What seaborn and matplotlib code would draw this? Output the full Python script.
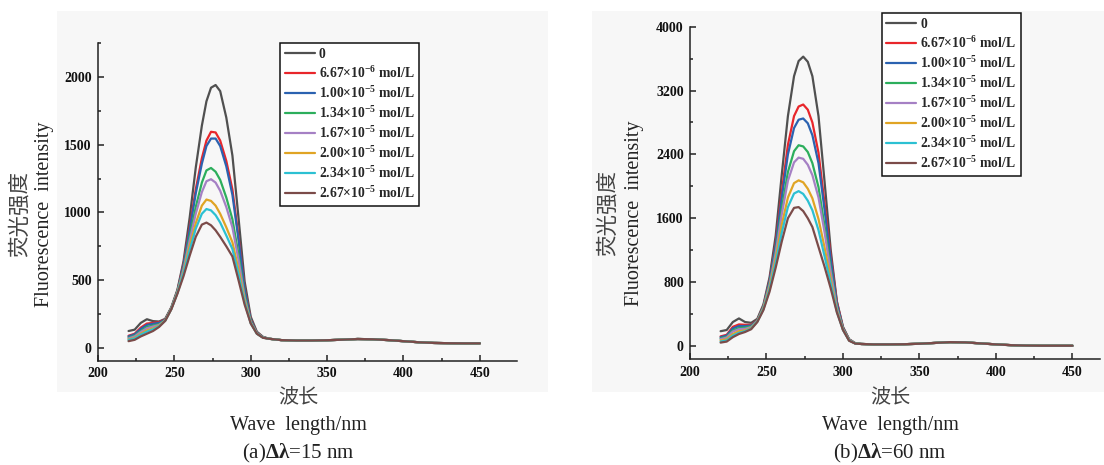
import numpy as np
import pandas as pd
import seaborn as sns
import matplotlib
matplotlib.use("Agg")
import matplotlib.pyplot as plt
from matplotlib.patches import Rectangle
from matplotlib.ticker import MultipleLocator

# ---- 数据 ----
wl_head = [220, 224, 228, 232, 236, 240, 244, 248, 252, 256, 260, 264,
           268, 271, 274, 277, 280, 284, 288, 292, 296, 300, 304, 308]
wl_tail = [312, 320, 330, 340, 350, 360, 370, 380, 390, 400, 410, 420, 430, 440, 450]

labels = ["0",
          r"6.67×10$^{\mathbf{-6}}$ mol/L",
          r"1.00×10$^{\mathbf{-5}}$ mol/L",
          r"1.34×10$^{\mathbf{-5}}$ mol/L",
          r"1.67×10$^{\mathbf{-5}}$ mol/L",
          r"2.00×10$^{\mathbf{-5}}$ mol/L",
          r"2.34×10$^{\mathbf{-5}}$ mol/L",
          r"2.67×10$^{\mathbf{-5}}$ mol/L"]
colors = ["#505050", "#e8262b", "#2b62b0", "#2cae5c", "#a580c4",
          "#e0a424", "#2cc0d2", "#7b4b49"]

# (a) Δλ=15 nm
a_c0 = [125, 135, 185, 212, 198, 195, 215, 300, 430, 640, 960, 1330,
        1640, 1820, 1920, 1940, 1895, 1700, 1420, 960, 490, 230, 120, 82]
a_c1 = [90, 105, 150, 180, 185, 190, 210, 295, 420, 620, 890, 1170,
        1400, 1530, 1595, 1590, 1530, 1380, 1170, 820, 440, 210, 115, 80]
a_c2 = [85, 100, 140, 170, 178, 185, 208, 293, 418, 610, 870, 1140,
        1360, 1490, 1545, 1545, 1490, 1340, 1130, 800, 430, 205, 113, 79]
a_c3 = [75, 90, 125, 155, 165, 175, 205, 292, 415, 590, 820, 1040,
        1220, 1310, 1328, 1300, 1240, 1110, 950, 690, 390, 195, 110, 78]
a_c4 = [70, 85, 118, 145, 158, 170, 203, 290, 412, 580, 790, 990,
        1150, 1230, 1245, 1220, 1160, 1040, 890, 650, 370, 190, 108, 77]
a_c5 = [62, 75, 105, 130, 145, 165, 202, 288, 408, 560, 750, 920,
        1050, 1095, 1085, 1050, 990, 890, 780, 580, 350, 185, 106, 76]
a_c6 = [58, 70, 98, 120, 138, 160, 201, 287, 405, 550, 720, 880,
        990, 1025, 1015, 980, 925, 830, 730, 545, 335, 182, 105, 76]
a_c7 = [50, 60, 85, 105, 125, 155, 200, 285, 400, 530, 680, 820,
        910, 925, 905, 868, 820, 750, 675, 500, 320, 180, 105, 75]
a_tail = [68, 58, 55, 55, 57, 61, 66, 64, 58, 50, 42, 37, 35, 34, 34]

# (b) Δλ=60 nm
b_c0 = [185, 200, 300, 345, 300, 290, 340, 520, 860, 1380, 2150, 2880,
        3380, 3570, 3625, 3560, 3380, 2880, 2050, 1200, 560, 240, 85, 35]
b_c1 = [120, 140, 240, 270, 265, 265, 325, 500, 820, 1290, 1930, 2520,
        2880, 3000, 3025, 2960, 2800, 2420, 1780, 1120, 550, 230, 80, 35]
b_c2 = [110, 130, 220, 250, 250, 255, 320, 495, 810, 1260, 1860, 2400,
        2730, 2835, 2850, 2790, 2640, 2290, 1700, 1080, 530, 225, 78, 34]
b_c3 = [95, 115, 195, 225, 230, 245, 315, 485, 780, 1190, 1720, 2180,
        2440, 2515, 2500, 2430, 2290, 1990, 1500, 970, 490, 215, 75, 33]
b_c4 = [85, 105, 180, 210, 215, 235, 312, 480, 765, 1160, 1650, 2070,
        2300, 2360, 2345, 2270, 2140, 1860, 1420, 920, 475, 210, 73, 33]
b_c5 = [70, 85, 150, 185, 195, 225, 308, 470, 735, 1090, 1520, 1860,
        2040, 2075, 2050, 1970, 1850, 1590, 1230, 830, 445, 205, 70, 32]
b_c6 = [55, 70, 130, 165, 185, 218, 304, 460, 710, 1040, 1420, 1740,
        1910, 1940, 1905, 1820, 1700, 1450, 1120, 780, 430, 200, 68, 31]
b_c7 = [42, 55, 110, 150, 175, 210, 300, 450, 680, 980, 1310, 1600,
        1730, 1740, 1690, 1600, 1490, 1240, 990, 720, 420, 200, 65, 30]
b_tail = [25, 20, 20, 22, 28, 38, 48, 45, 32, 20, 10, 5, 3, 3, 3]


def make_df(heads, tail):
    rows = []
    for lab, head in zip(labels, heads):
        for x, y in zip(wl_head + wl_tail, head + tail):
            rows.append((x, y, lab))
    return pd.DataFrame(rows, columns=["wl", "val", "conc"])


df_a = make_df([a_c0, a_c1, a_c2, a_c3, a_c4, a_c5, a_c6, a_c7], a_tail)
df_b = make_df([b_c0, b_c1, b_c2, b_c3, b_c4, b_c5, b_c6, b_c7], b_tail)

# ---- 样式 ----
sns.set_style("ticks")
plt.rcParams["font.family"] = ["Liberation Serif", "DejaVu Sans"]
plt.rcParams["mathtext.fontset"] = "custom"
plt.rcParams["mathtext.rm"] = "Liberation Serif"
plt.rcParams["mathtext.it"] = "Liberation Serif:italic"
plt.rcParams["mathtext.bf"] = "Liberation Serif:bold"
plt.rcParams["mathtext.bfit"] = "Liberation Serif:bold:italic"

bg = "#f7f7f7"
fig = plt.figure(figsize=(11.04, 4.65), dpi=100)
fig.patch.set_facecolor("white")
W, H = 1104, 465
for x0, x1 in [(57, 548), (592, 1104)]:
    fig.patches.append(Rectangle((x0 / W, 1 - 392 / H), (x1 - x0) / W, (392 - 11) / H,
                                 transform=fig.transFigure, facecolor=bg,
                                 edgecolor="none", zorder=-5))

ax_a = fig.add_axes([98 / W, 1 - 360.7 / H, 418.5 / W, (360.7 - 43) / H])
ax_b = fig.add_axes([690 / W, 1 - 359.3 / H, 410 / W, (359.3 - 26.7) / H])

panels = [
    (ax_a, df_a, (200, 474), (-94, 2250), 500, 250, (280, 43.3),
     (20, 45, 214), (298, 398, 425, 453), r"(a)$\mathbf{\Delta}\boldsymbol{\lambda}$=15 nm"),
    (ax_b, df_b, (200, 468), (-167, 4000), 800, 400, (881.7, 13.3),
     (608, 635, 213), (890, 398, 425, 453), r"(b)$\mathbf{\Delta}\boldsymbol{\lambda}$=60 nm"),
]

for ax, df, xl, yl, ymaj, ymin, leg_xy, ylab, xlab, cap in panels:
    ax.set_facecolor("none")
    sns.lineplot(data=df, x="wl", y="val", hue="conc", hue_order=labels,
                 palette=colors, linewidth=1.6, estimator=None, sort=False, ax=ax)
    ax.set_xlim(*xl)
    ax.set_ylim(*yl)
    ax.xaxis.set_major_locator(MultipleLocator(50))
    ax.xaxis.set_minor_locator(MultipleLocator(25))
    ax.yaxis.set_major_locator(MultipleLocator(ymaj))
    ax.yaxis.set_minor_locator(MultipleLocator(ymin))
    ax.tick_params(which="both", direction="in", color="#222222", width=1.1)
    ax.tick_params(which="major", length=4.5, labelsize=10, pad=4.5,
                   labelcolor="#111111")
    ax.tick_params(which="minor", length=2.5)
    for lbl in ax.get_xticklabels() + ax.get_yticklabels():
        lbl.set_fontweight("bold")
    for s in ["top", "right"]:
        ax.spines[s].set_visible(False)
    for s in ["left", "bottom"]:
        ax.spines[s].set_color("#222222")
        ax.spines[s].set_linewidth(1.1)
    ax.set_xlabel("")
    ax.set_ylabel("")

    leg = ax.get_legend()
    handles = leg.legend_handles
    leg.remove()
    lg = ax.legend(handles, labels, loc="upper left",
                   bbox_to_anchor=(leg_xy[0] / W, 1 - leg_xy[1] / H),
                   bbox_transform=fig.transFigure, borderaxespad=0,
                   frameon=True, fancybox=False, framealpha=1,
                   edgecolor="#111111", facecolor="white",
                   prop={"family": "Liberation Serif", "weight": "bold", "size": 9.8},
                   handlelength=2.2, handletextpad=0.3, labelspacing=0.3,
                   borderpad=0.35)
    lg.get_frame().set_linewidth(1.1)
    for ln in lg.get_lines():
        ln.set_linewidth(1.6)

    # 纵轴标题（两行）
    fig.text(ylab[0] / W, 1 - ylab[2] / H, "荧光强度", rotation=90,
             ha="center", va="center", fontsize=15.5, color="#444444",
             family=["Noto Sans CJK SC", "DejaVu Sans"], fontweight="light")
    fig.text(ylab[1] / W, 1 - ylab[2] / H, "Fluorescence  intensity", rotation=90,
             ha="center", va="center", fontsize=14.5, color="#222222")
    # 横轴标题与子图说明
    fig.text(xlab[0] / W, 1 - xlab[1] / H, "波长", ha="center", va="center",
             fontsize=14.5, color="#444444",
             family=["Noto Sans CJK SC", "DejaVu Sans"], fontweight="light")
    fig.text(xlab[0] / W, 1 - xlab[2] / H, "Wave  length/nm", ha="center",
             va="center", fontsize=14.5, color="#222222")
    fig.text(xlab[0] / W, 1 - xlab[3] / H, cap, ha="center", va="center",
             fontsize=15, color="#222222")

fig.savefig("out.png", dpi=100)
